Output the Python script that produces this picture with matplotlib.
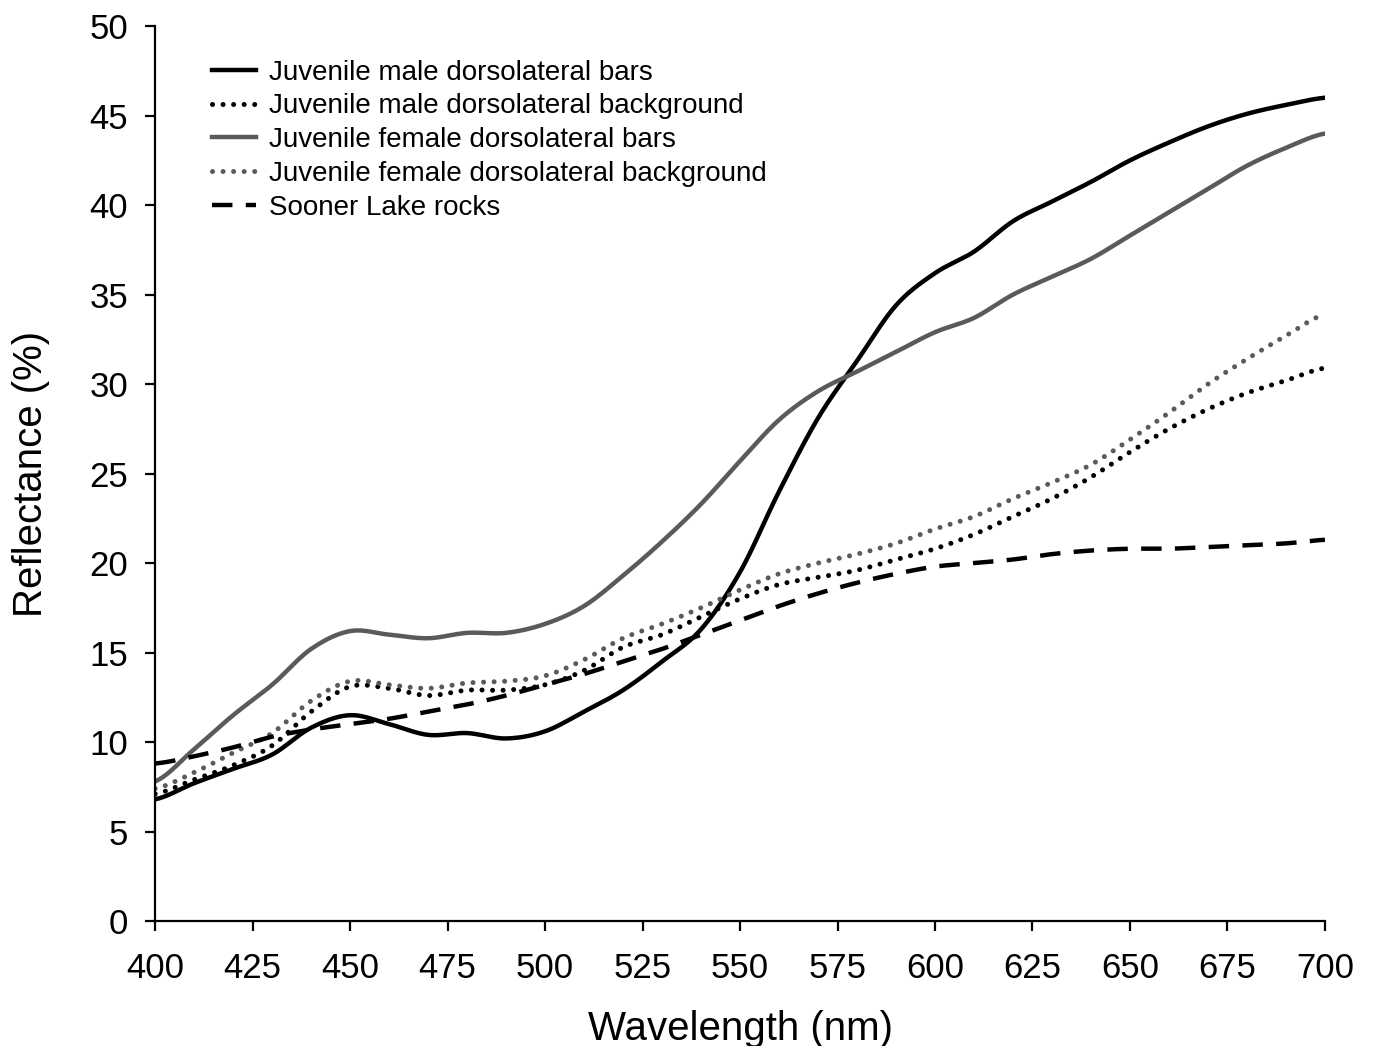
import matplotlib
matplotlib.use('Agg')
from matplotlib import pyplot as plt
import numpy as np

plt.rcParams['font.family'] = ['Liberation Sans', 'DejaVu Sans']

# wavelength grid (nm)
wl = [400, 410, 420, 430, 440, 450, 460, 470, 480, 490, 500, 510, 520, 530,
      540, 550, 560, 570, 580, 590, 600, 610, 620, 630, 640, 650, 660, 670,
      680, 690, 700]

male_bars = [6.8, 7.7, 8.5, 9.3, 10.8, 11.5, 11.0, 10.4, 10.5, 10.2, 10.6, 11.7,
             12.9, 14.5, 16.3, 19.5, 24.0, 28.1, 31.3, 34.4, 36.2, 37.4, 39.1,
             40.2, 41.3, 42.5, 43.5, 44.4, 45.1, 45.6, 46.0]
male_bg = [7.1, 7.9, 8.7, 9.8, 11.7, 13.1, 13.0, 12.6, 12.9, 12.9, 13.2, 14.0,
           15.3, 16.0, 17.0, 18.0, 18.8, 19.2, 19.6, 20.2, 20.8, 21.6, 22.6,
           23.6, 24.8, 26.2, 27.5, 28.6, 29.5, 30.2, 30.9]
female_bars = [7.8, 9.6, 11.5, 13.2, 15.2, 16.2, 16.0, 15.8, 16.1, 16.1, 16.6,
               17.6, 19.3, 21.2, 23.3, 25.7, 28.0, 29.6, 30.7, 31.8, 32.9, 33.7,
               35.0, 36.0, 37.0, 38.3, 39.6, 40.9, 42.2, 43.2, 44.0]
female_bg = [7.4, 8.3, 9.4, 10.5, 12.3, 13.4, 13.2, 13.0, 13.3, 13.4, 13.7, 14.6,
             15.8, 16.6, 17.5, 18.5, 19.4, 20.0, 20.5, 21.1, 21.9, 22.6, 23.6,
             24.5, 25.5, 26.9, 28.4, 30.0, 31.4, 32.7, 33.9]
rocks = [8.8, 9.2, 9.7, 10.3, 10.7, 11.0, 11.3, 11.7, 12.1, 12.6, 13.2, 13.8,
         14.5, 15.2, 16.0, 16.8, 17.6, 18.3, 18.9, 19.4, 19.8, 20.0, 20.2, 20.5,
         20.7, 20.8, 20.8, 20.9, 21.0, 21.1, 21.3]

labels = ['Juvenile male dorsolateral bars',
          'Juvenile male dorsolateral background',
          'Juvenile female dorsolateral bars',
          'Juvenile female dorsolateral background',
          'Sooner Lake rocks']


def smooth(x, y, n=601):
    # Catmull-Rom through the read points, so the traces look smooth
    xs = np.linspace(x[0], x[-1], n)
    x = np.asarray(x, float)
    y = np.asarray(y, float)
    out = np.empty_like(xs)
    for k, xv in enumerate(xs):
        i = min(np.searchsorted(x, xv, side='right') - 1, len(x) - 2)
        t = (xv - x[i]) / (x[i + 1] - x[i])
        p0 = y[max(i - 1, 0)]
        p1 = y[i]
        p2 = y[i + 1]
        p3 = y[min(i + 2, len(y) - 1)]
        out[k] = 0.5 * ((2 * p1) + (-p0 + p2) * t +
                        (2 * p0 - 5 * p1 + 4 * p2 - p3) * t ** 2 +
                        (-p0 + 3 * p1 - 3 * p2 + p3) * t ** 3)
    return xs, out


fig = plt.figure(figsize=(13.73, 10.46), dpi=100)
ax = fig.add_axes([0.113, 0.1195, 0.852, 0.8555])

lw = 3.2
dlw = 3.6
dots = (0, (0.01, 2.1))
ax.plot(*smooth(wl, male_bars), color='black', lw=lw, label=labels[0])
ax.plot(*smooth(wl, male_bg), color='black', lw=dlw, ls=dots,
        dash_capstyle='round', label=labels[1])
ax.plot(*smooth(wl, female_bars), color='#5a5a5a', lw=lw, label=labels[2])
ax.plot(*smooth(wl, female_bg), color='#5a5a5a', lw=dlw, ls=dots,
        dash_capstyle='round', label=labels[3])
ax.plot(*smooth(wl, rocks), color='black', lw=lw, ls=(0, (4.6, 3.0)),
        label=labels[4])

ax.set_xlim(400, 700)
ax.set_ylim(0, 50)
ax.set_xticks(np.arange(400, 701, 25))
ax.set_yticks(np.arange(0, 51, 5))
ax.tick_params(labelsize=25, length=7.5, width=1.6, direction='out')
ax.tick_params(axis='x', pad=15)
ax.tick_params(axis='y', pad=12)
for s in ['top', 'right']:
    ax.spines[s].set_visible(False)
for s in ['left', 'bottom']:
    ax.spines[s].set_linewidth(1.6)

ax.set_xlabel('Wavelength (nm)', fontsize=29, labelpad=18)
ax.set_ylabel('Reflectance (%)', fontsize=29, labelpad=28)

ax.legend(loc='upper left', bbox_to_anchor=(0.039, 0.975), frameon=False,
          fontsize=20, handlelength=1.6, handletextpad=0.45, labelspacing=0.28,
          borderaxespad=0)

fig.savefig('out.png', dpi=100)
